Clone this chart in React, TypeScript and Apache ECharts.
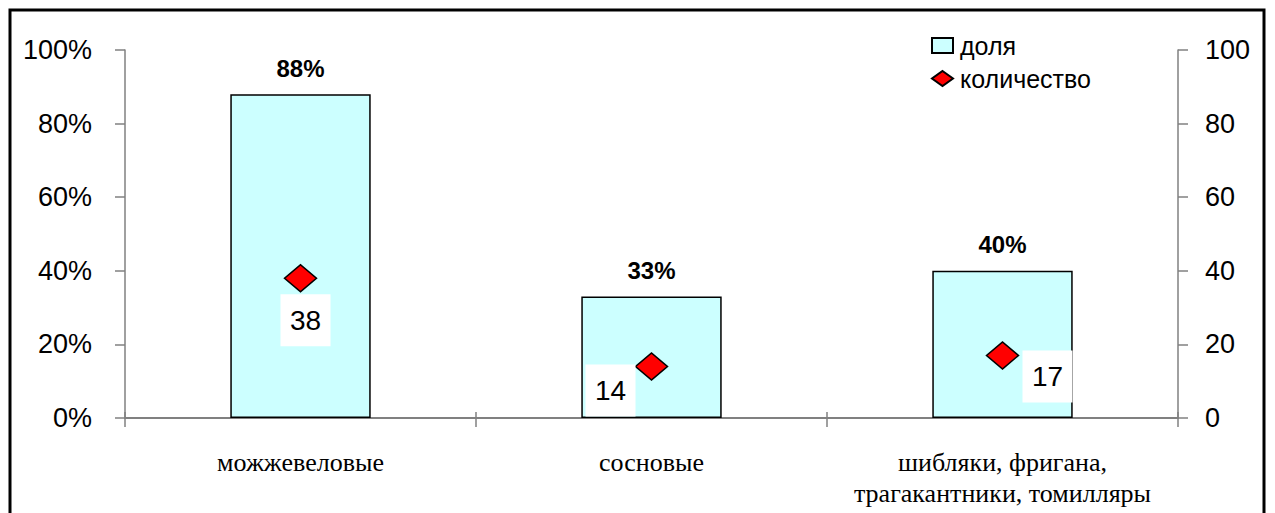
import React, { useEffect, useRef } from "react";
import * as echarts from "echarts";

const categories = ["можжевеловые", "сосновые", "шибляки, фригана,\nтрагакантники, томилляры"];
const shareValues = [88, 33, 40];
const countValues = [38, 14, 17];
const countLabelOffsets: [number, number][] = [[5, 42], [-41, 24], [45, 21]];
const leftTicks = { min: 0, max: 100, interval: 20 };
const rightTicks = { min: 0, max: 100, interval: 20 };

export default function App() {
  const ref = useRef<HTMLDivElement>(null);
  useEffect(() => {
    if (!ref.current) return;
    const chart = echarts.init(ref.current, null, { renderer: "svg" });
    const axisGray = "#808080";
    const sans = "'Liberation Sans', Arial, sans-serif";
    chart.setOption({
      animation: false,
      backgroundColor: "#ffffff",
      grid: { left: 125, right: 97, top: 50, bottom: 95, containLabel: false },
      legend: {
        orient: "vertical",
        left: 926,
        top: 28,
        itemWidth: 21,
        itemHeight: 15,
        itemGap: 8,
        textStyle: { fontFamily: sans, fontSize: 25, color: "#000", padding: [0, 0, 0, 2] },
        data: [
          { name: "доля", icon: "rect" },
          { name: "количество", icon: "diamond" },
        ],
      },
      xAxis: [
        {
          type: "category",
          data: categories,
          position: "bottom",
          boundaryGap: true,
          axisLine: { lineStyle: { color: axisGray, width: 2 } },
          axisTick: { show: true, length: 9, lineStyle: { color: axisGray, width: 1.5 } },
          axisLabel: {
            margin: 29,
            fontFamily: "'Liberation Serif', 'Times New Roman', serif",
            fontSize: 26,
            lineHeight: 31,
            color: "#000",
            interval: 0,
          },
        },
        {
          type: "category",
          data: categories,
          position: "bottom",
          boundaryGap: true,
          axisLine: { show: false },
          axisTick: { show: true, inside: true, length: 6, lineStyle: { color: axisGray, width: 1.5 } },
          axisLabel: { show: false },
        },
      ],
      yAxis: [
        {
          type: "value",
          position: "left",
          min: leftTicks.min,
          max: leftTicks.max,
          interval: leftTicks.interval,
          splitLine: { show: false },
          axisLine: { show: true, lineStyle: { color: axisGray, width: 1.5 } },
          axisTick: { show: true, length: 10, lineStyle: { color: axisGray, width: 1.5 } },
          axisLabel: { formatter: "{value}%", margin: 33, fontFamily: sans, fontSize: 27, color: "#000" },
        },
        {
          type: "value",
          position: "right",
          min: rightTicks.min,
          max: rightTicks.max,
          interval: rightTicks.interval,
          splitLine: { show: false },
          axisLine: { show: true, lineStyle: { color: axisGray, width: 1.5 } },
          axisTick: { show: true, length: 10, lineStyle: { color: axisGray, width: 1.5 } },
          axisLabel: { margin: 27, fontFamily: sans, fontSize: 27, color: "#000" },
        },
      ],
      series: [
        {
          name: "доля",
          type: "bar",
          xAxisIndex: 0,
          yAxisIndex: 0,
          barWidth: "40%",
          data: shareValues,
          itemStyle: { color: "#CCFFFF", borderColor: "#000", borderWidth: 1.5 },
          label: {
            show: true,
            position: "top",
            distance: 14,
            formatter: "{c}%",
            fontFamily: sans,
            fontWeight: "bold",
            fontSize: 24,
            color: "#000",
          },
        },
        {
          name: "количество",
          type: "scatter",
          xAxisIndex: 0,
          yAxisIndex: 1,
          symbol: "diamond",
          symbolSize: [32, 27],
          itemStyle: { color: "#FF0000", borderColor: "#000", borderWidth: 1.5, opacity: 1 },
          data: countValues.map((v, i) => ({
            value: v,
            label: {
              show: true,
              position: "inside",
              offset: countLabelOffsets[i],
              backgroundColor: "#ffffff",
              width: 50,
              height: 52,
              lineHeight: 52,
              align: "center",
              verticalAlign: "middle",
              fontFamily: sans,
              fontSize: 28,
              color: "#000",
              opacity: 1,
              textBorderWidth: 0,
            },
          })),
        },
      ],
      graphic: [
        {
          type: "rect",
          shape: { x: 10, y: 10, width: 1254, height: 530 },
          style: { fill: "none", stroke: "#000", lineWidth: 3 },
          silent: true,
        },
      ],
    });
    return () => chart.dispose();
  }, []);
  return <div ref={ref} style={{ position: "absolute", left: 0, top: 0, width: 1275, height: 513 }} />;
}
